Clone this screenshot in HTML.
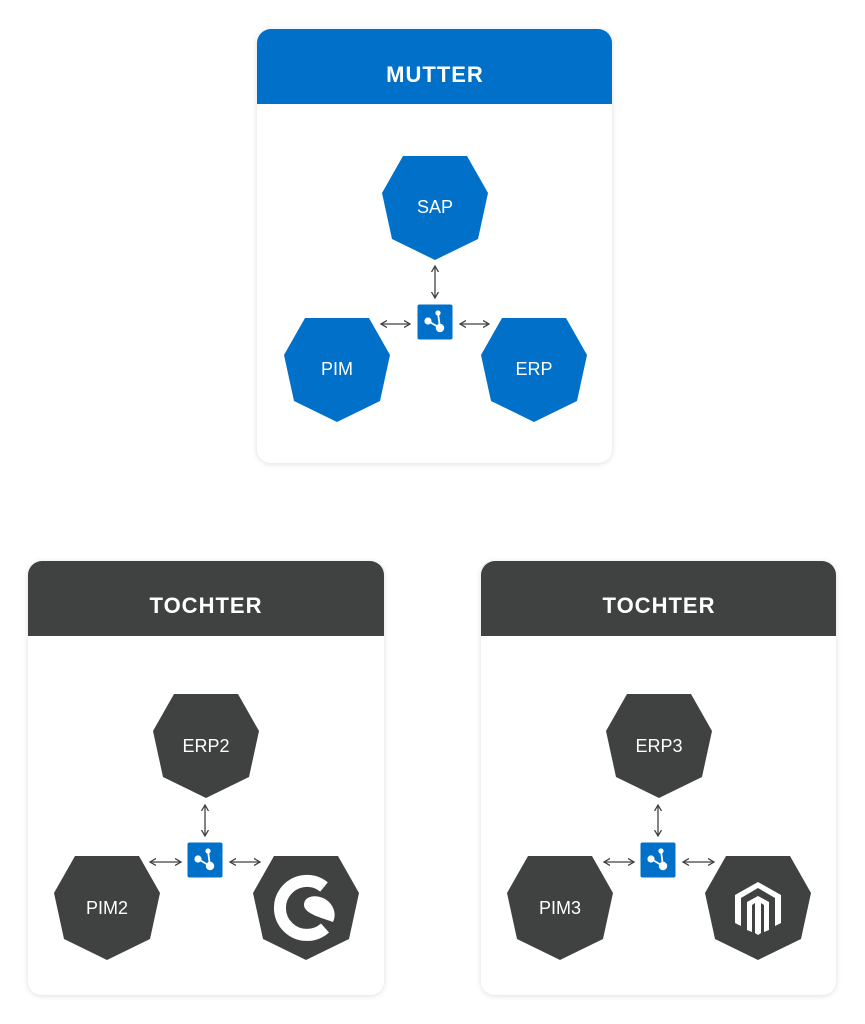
<!DOCTYPE html>
<html><head><meta charset="utf-8"><style>
html,body{margin:0;padding:0;background:#fff;}
svg{display:block;}
text{font-family:"Liberation Sans",sans-serif;fill:#fff;text-anchor:middle;}
.t{font-weight:bold;}
</style></head><body>
<svg width="865" height="1024" viewBox="0 0 865 1024" xmlns="http://www.w3.org/2000/svg">
<defs>
<filter id="sh" x="-10%" y="-10%" width="120%" height="120%"><feDropShadow dx="0" dy="1" stdDeviation="3" flood-color="#000" flood-opacity="0.13"/></filter>
<polygon id="hep" points="-32,0 32,0 53,37 43,83 0,104 -43,83 -53,37"/>
<marker id="ah" markerWidth="8" markerHeight="8" refX="6" refY="4" orient="auto-start-reverse" markerUnits="userSpaceOnUse"><path d="M0,0.5 L6,4 L0,7.5" fill="none" stroke="#404241" stroke-width="1.3"/></marker>
<g id="hub"><rect x="-17.5" y="-17.5" width="35" height="35" rx="2" fill="#0070c9"/>
<path d="M-7,-1 L5,6 M3,-9 L5,6" stroke="#fff" stroke-width="1.8"/>
<circle cx="-7" cy="-1" r="3.6" fill="#fff"/><circle cx="3" cy="-9" r="2.6" fill="#fff"/><circle cx="5" cy="6" r="4.2" fill="#fff"/></g>
</defs>

<!-- Mutter card -->
<g filter="url(#sh)"><rect x="257" y="29" width="355" height="434" rx="14" fill="#fff"/></g>
<path d="M271,29 H598 A14,14 0 0 1 612,43 V104 H257 V43 A14,14 0 0 1 271,29 Z" fill="#0070c9"/>
<text class="t" x="435" y="82" font-size="22" letter-spacing="1">MUTTER</text>
<use href="#hep" x="435" y="156" fill="#0070c9"/>
<use href="#hep" x="337" y="318" fill="#0070c9"/>
<use href="#hep" x="534" y="318" fill="#0070c9"/>
<text x="435" y="213" font-size="18">SAP</text>
<text x="337" y="375" font-size="18">PIM</text>
<text x="534" y="375" font-size="18">ERP</text>
<use href="#hub" x="435" y="322"/>
<g stroke="#404241" stroke-width="1.3" marker-start="url(#ah)" marker-end="url(#ah)">
<line x1="435" y1="266" x2="435" y2="298"/>
<line x1="381" y1="324" x2="410" y2="324"/>
<line x1="460" y1="324" x2="489" y2="324"/>
</g>

<!-- Tochter left -->
<g filter="url(#sh)"><rect x="28" y="561" width="356" height="434" rx="14" fill="#fff"/></g>
<path d="M42,561 H370 A14,14 0 0 1 384,575 V636 H28 V575 A14,14 0 0 1 42,561 Z" fill="#404241"/>
<text class="t" x="206" y="613" font-size="22" letter-spacing="1">TOCHTER</text>
<use href="#hep" x="206" y="694" fill="#404241"/>
<use href="#hep" x="107" y="856" fill="#404241"/>
<use href="#hep" x="306" y="856" fill="#404241"/>
<text x="206" y="752" font-size="18">ERP2</text>
<text x="107" y="914" font-size="18">PIM2</text>
<g transform="translate(307,908)">
<path d="M17,-21 A27,27 0 1 0 18,20" fill="none" stroke="#fff" stroke-width="12"/>
<path d="M-3,-4 C-2,-14 14,-14 22,-6 C28,0 29,8 26,14 C16,10 -4,6 -3,-4 Z" fill="#fff"/>
</g>
<use href="#hub" x="205" y="860"/>
<g stroke="#404241" stroke-width="1.3" marker-start="url(#ah)" marker-end="url(#ah)">
<line x1="205" y1="805" x2="205" y2="836"/>
<line x1="150" y1="862" x2="181" y2="862"/>
<line x1="230" y1="862" x2="260" y2="862"/>
</g>

<!-- Tochter right -->
<g filter="url(#sh)"><rect x="481" y="561" width="355" height="434" rx="14" fill="#fff"/></g>
<path d="M495,561 H822 A14,14 0 0 1 836,575 V636 H481 V575 A14,14 0 0 1 495,561 Z" fill="#404241"/>
<text class="t" x="659" y="613" font-size="22" letter-spacing="1">TOCHTER</text>
<use href="#hep" x="659" y="694" fill="#404241"/>
<use href="#hep" x="560" y="856" fill="#404241"/>
<use href="#hep" x="758" y="856" fill="#404241"/>
<text x="659" y="752" font-size="18">ERP3</text>
<text x="560" y="914" font-size="18">PIM3</text>
<g transform="translate(758,908)" fill="#fff">
<path d="M0,-26 L23,-13 L23,15 L17,18 L17,-10 L0,-20 L-17,-10 L-17,18 L-23,15 L-23,-13 Z"/>
<path d="M0,-12 L11,-6 L11,22 L6,24 L6,-3 L3,-5 L3,25 L0,27 L-3,25 L-3,-5 L-6,-3 L-6,24 L-11,22 L-11,-6 Z"/>
</g>
<use href="#hub" x="658" y="860"/>
<g stroke="#404241" stroke-width="1.3" marker-start="url(#ah)" marker-end="url(#ah)">
<line x1="658" y1="805" x2="658" y2="836"/>
<line x1="604" y1="862" x2="634" y2="862"/>
<line x1="683" y1="862" x2="714" y2="862"/>
</g>
</svg>
</body></html>
